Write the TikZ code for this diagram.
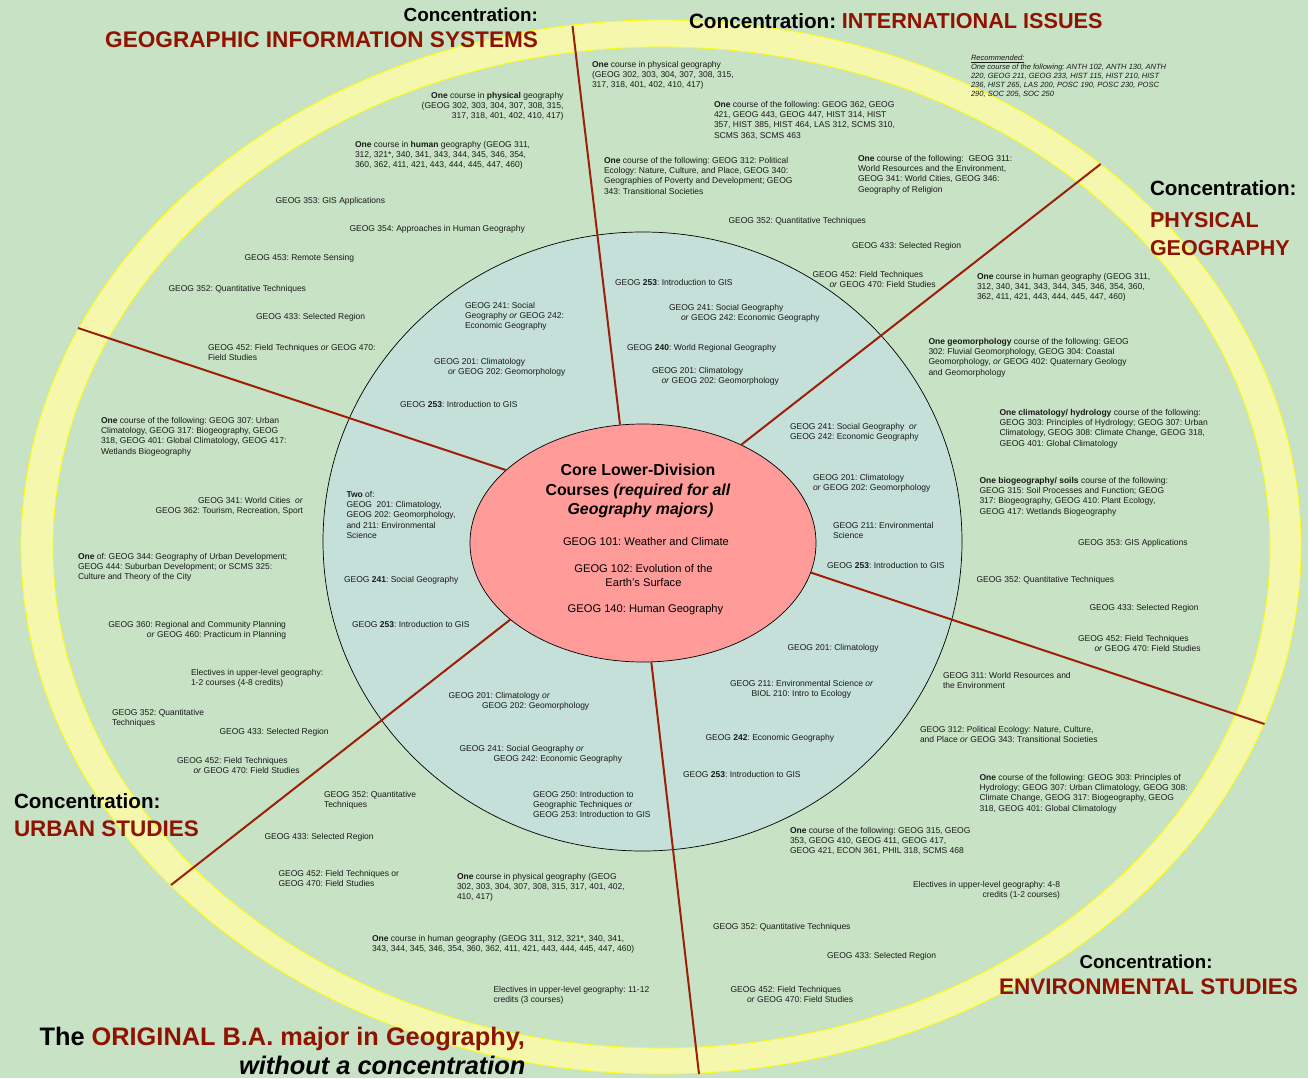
\documentclass[tikz,border=0pt]{standalone}
\usepackage{fontspec}
\setmainfont{Liberation Sans}
\usetikzlibrary{shapes.geometric}
\AtBeginDocument{\frenchspacing}
\definecolor{bgc}{HTML}{C8E2C6}
\definecolor{ringc}{HTML}{F5F7AC}
\definecolor{ringe}{HTML}{FFFF00}
\definecolor{midc}{HTML}{C5E0D8}
\definecolor{corec}{HTML}{FF9C9A}
\definecolor{linec}{HTML}{9C1F08}
\definecolor{headc}{HTML}{8F1300}
\definecolor{txtc}{HTML}{1A1A1A}
\tikzset{
 lt/.style={inner sep=0pt,outer sep=0pt,anchor=north west,align=left,text=txtc,font=\fontsize{8.5}{10.3}\selectfont},
 rt/.style={inner sep=0pt,outer sep=0pt,anchor=north east,align=right,text=txtc,font=\fontsize{8.5}{10.3}\selectfont},
 rec/.style={inner sep=0pt,outer sep=0pt,anchor=north west,align=left,text=txtc,font=\fontsize{7.55}{9}\selectfont\itshape},
 coret/.style={inner sep=0pt,outer sep=0pt,anchor=center,align=center,text=black,font=\fontsize{11.15}{14}\selectfont},
 coreh/.style={inner sep=0pt,outer sep=0pt,anchor=center,align=center,text=black,font=\fontsize{15.9}{19.7}\selectfont\bfseries},
 headbl/.style={inner sep=0pt,outer sep=0pt,text=black,font=\fontsize{#1}{#1}\selectfont\bfseries},
 headre/.style={inner sep=0pt,outer sep=0pt,text=headc,font=\fontsize{#1}{#1}\selectfont\bfseries},
 divider/.style={draw=linec,line width=2pt},
}
\newcommand{\ind}[1]{\hspace*{#1pt}}
\begin{document}
\begin{tikzpicture}[x=1pt,y=-1pt]
\useasboundingbox (0,0) rectangle (1308,1078);
\fill[bgc] (0,0) rectangle (1308,1078);
\filldraw[fill=ringc,draw=ringe,line width=0.8pt] (661,547) ellipse [x radius=640,y radius=527];
\filldraw[fill=bgc,draw=ringe,line width=0.8pt] (661.5,547.5) ellipse [x radius=608.5,y radius=500.5];
\filldraw[fill=midc,draw=black,line width=0.7pt] (642.5,541.5) ellipse [x radius=319.5,y radius=309.5];
\node[ellipse,draw=black,fill=corec,line width=0.7pt,minimum width=346pt,minimum height=238pt,inner sep=0pt] (core) at (643,543) {};
\coordinate (e1) at (572.5,26);
\coordinate (e2) at (1100.7,164);
\coordinate (e3) at (1264.5,724);
\coordinate (e4) at (699,1074);
\coordinate (e5) at (171,885);
\coordinate (e6) at (78,328);
\draw[divider] (core.101) -- (e1);
\draw[divider] (core.45.8) -- (e2);
\draw[divider] (core.-10.2) -- (e3);
\draw[divider] (core.-86.6) -- (e4);
\draw[divider] (core.210.8) -- (e5);
\draw[divider] (core.152.4) -- (e6);
% core text
\node[coreh] (ch) at (638,491) {Core Lower-Division\\Courses \textit{(required for all}\\\ind{5}\textit{Geography majors)}};
\node[coret] (c1) at (646,542) {GEOG 101: Weather and Climate};
\node[coret] (c2) at (643.5,576) {GEOG 102: Evolution of the\\Earth's Surface};
\node[coret] (c3) at (645.5,610) {GEOG 140: Human Geography};
% headings
\node[headbl=18.9,anchor=base east] (h1) at (538,21.5) {Concentration:};
\node[headre=22.6,anchor=base east] (h2) at (538,48) {GEOGRAPHIC INFORMATION SYSTEMS};
\node[headbl=20.7,anchor=base west] (h3) at (689,29) {Concentration: \textcolor{headc}{\fontsize{21.65}{21.65}\selectfont INTERNATIONAL ISSUES}};
\node[headbl=20.6,anchor=base west] (h4) at (1150,195) {Concentration:};
\node[headre=21.5,anchor=base west] (h5) at (1150,227) {PHYSICAL};
\node[headre=21.5,anchor=base west] (h6) at (1150,255) {GEOGRAPHY};
\node[headbl=20.6,anchor=base west] (h7) at (14,808.7) {Concentration:};
\node[headre=22.5,anchor=base west] (h8) at (14,836) {URBAN STUDIES};
\node[headbl=18.7,anchor=base] (h9) at (1146,968) {Concentration:};
\node[headre=22.55,anchor=base east] (h10) at (1298,994) {ENVIRONMENTAL STUDIES};
\node[headbl=25.35,anchor=base east] (h11) at (525,1045) {The \textcolor{headc}{ORIGINAL B.A. major in Geography,}};
\node[headbl=25.4,anchor=base east] (h12) at (525.5,1074) {\textit{without a concentration}};
% GIS
\node[rt] (a1) at (563.5,92) {\textbf{One} course in \textbf{physical} geography\\(GEOG 302, 303, 304, 307, 308, 315,\\317, 318, 401, 402, 410, 417)};
\node[lt] (a2) at (355,141) {\textbf{One} course in \textbf{human} geography (GEOG 311,\\312, 321*, 340, 341, 343, 344, 345, 346, 354,\\360, 362, 411, 421, 443, 444, 445, 447, 460)};
\node[lt] (a3) at (275.5,197) {GEOG 353: GIS Applications};
\node[lt] (a4) at (349.5,225) {GEOG 354: Approaches in Human Geography};
\node[lt] (a5) at (244.5,254) {GEOG 453: Remote Sensing};
\node[lt] (a6) at (168.5,285) {GEOG 352: Quantitative Techniques};
\node[lt] (a7) at (256,313) {GEOG 433: Selected Region};
\node[lt] (a8) at (208,344) {GEOG 452: Field Techniques \textit{or} GEOG 470:\\Field Studies};
\node[lt] (a9) at (465,302) {GEOG 241: Social\\Geography \textit{or} GEOG 242:\\Economic Geography};
\node[lt] (a10) at (434,358) {GEOG 201: Climatology\\\ind{14}\textit{or} GEOG 202: Geomorphology};
\node[lt] (a11) at (400,401) {GEOG \textbf{253}: Introduction to GIS};
% International
\node[lt] (b1) at (592,61) {\textbf{One} course in physical geography\\(GEOG 302, 303, 304, 307, 308, 315,\\317, 318, 401, 402, 410, 417)};
\node[lt] (b2) at (714,101) {\textbf{One} course of the following: GEOG 362, GEOG\\421, GEOG 443, GEOG 447, HIST 314, HIST\\357, HIST 385, HIST 464, LAS 312, SCMS 310,\\SCMS 363, SCMS 463};
\node[lt] (b3) at (604,157) {\textbf{One} course of the following: GEOG 312: Political\\Ecology: Nature, Culture, and Place, GEOG 340:\\Geographies of Poverty and Development; GEOG\\343: Transitional Societies};
\node[lt] (b4) at (858,155) {\textbf{One} course of the following:\ \ GEOG 311:\\World Resources and the Environment,\\GEOG 341: World Cities, GEOG 346:\\Geography of Religion};
\node[rec] (b5) at (971,55.5) {\underline{Recommended:}\\One course of the following: ANTH 102, ANTH 130, ANTH\\220, GEOG 211, GEOG 233, HIST 115, HIST 210, HIST\\236, HIST 265, LAS 200, POSC 190, POSC 230, POSC\\290, SOC 205, SOC 250};
\node[lt] (b6) at (728.5,217) {GEOG 352: Quantitative Techniques};
\node[lt] (b7) at (852,242) {GEOG 433: Selected Region};
\node[lt] (b8) at (812.5,271) {GEOG 452: Field Techniques\\\ind{17}\textit{or} GEOG 470: Field Studies};
\node[lt] (b9) at (615,279) {GEOG \textbf{253}: Introduction to GIS};
\node[lt] (b10) at (669,304) {GEOG 241: Social Geography\\\ind{12}\textit{or} GEOG 242: Economic Geography};
\node[lt] (b11) at (627,344) {GEOG \textbf{240}: World Regional Geography};
\node[lt] (b12) at (652,367) {GEOG 201: Climatology\\\ind{9.5}\textit{or} GEOG 202: Geomorphology};
% Physical
\node[lt] (p1) at (977,273) {\textbf{One} course in human geography (GEOG 311,\\312, 340, 341, 343, 344, 345, 346, 354, 360,\\362, 411, 421, 443, 444, 445, 447, 460)};
\node[lt] (p2) at (928.5,338) {\textbf{One geomorphology} course of the following: GEOG\\302: Fluvial Geomorphology, GEOG 304: Coastal\\Geomorphology, \textit{or} GEOG 402: Quaternary Geology\\and Geomorphology};
\node[lt] (p3) at (999.5,409) {\textbf{One climatology/ hydrology} course of the following:\\GEOG 303: Principles of Hydrology; GEOG 307: Urban\\Climatology, GEOG 308: Climate Change, GEOG 318,\\GEOG 401: Global Climatology};
\node[lt] (p4) at (979.5,477) {\textbf{One biogeography/ soils} course of the following:\\GEOG 315: Soil Processes and Function; GEOG\\317: Biogeography, GEOG 410: Plant Ecology,\\GEOG 417: Wetlands Biogeography};
\node[lt] (p5) at (1078,539) {GEOG 353: GIS Applications};
\node[lt] (p6) at (976.5,576) {GEOG 352: Quantitative Techniques};
\node[lt] (p7) at (1089.5,604) {GEOG 433: Selected Region};
\node[lt] (p8) at (1078,635) {GEOG 452: Field Techniques\\\ind{16.5}\textit{or} GEOG 470: Field Studies};
\node[lt] (p9) at (790,423) {GEOG 241: Social Geography\ \ \textit{or}\\GEOG 242: Economic Geography};
\node[lt] (p10) at (813,474) {GEOG 201: Climatology\\\textit{or} GEOG 202: Geomorphology};
\node[lt] (p11) at (833,522) {GEOG 211: Environmental\\Science};
\node[lt] (p12) at (827,562) {GEOG \textbf{253}: Introduction to GIS};
% Environmental
\node[lt] (v1) at (787.5,644) {GEOG 201: Climatology};
\node[lt] (v2) at (730,680) {GEOG 211: Environmental Science \textit{or}\\\ind{21.5}BIOL 210: Intro to Ecology};
\node[lt] (v3) at (705.5,734) {GEOG \textbf{242}: Economic Geography};
\node[lt] (v4) at (683,771) {GEOG \textbf{253}: Introduction to GIS};
\node[lt] (v5) at (943,672) {GEOG 311: World Resources and\\the Environment};
\node[lt] (v6) at (920,726) {GEOG 312: Political Ecology: Nature, Culture,\\and Place \textit{or} GEOG 343: Transitional Societies};
\node[lt] (v7) at (979.5,774) {\textbf{One} course of the following: GEOG 303: Principles of\\Hydrology; GEOG 307: Urban Climatology, GEOG 308:\\Climate Change, GEOG 317: Biogeography, GEOG\\318, GEOG 401: Global Climatology};
\node[lt] (v8) at (790,827) {\textbf{One} course of the following: GEOG 315, GEOG\\353, GEOG 410, GEOG 411, GEOG 417,\\GEOG 421, ECON 361, PHIL 318, SCMS 468};
\node[rt] (v9) at (1060,881) {Electives in upper-level geography: 4-8\\credits (1-2 courses)};
\node[lt] (v10) at (713,923) {GEOG 352: Quantitative Techniques};
\node[lt] (v11) at (827,952) {GEOG 433: Selected Region};
\node[lt] (v12) at (730.5,986) {GEOG 452: Field Techniques\\\ind{16.5}\textit{or} GEOG 470: Field Studies};
% Urban
\node[lt] (u1) at (101,417) {\textbf{One} course of the following: GEOG 307: Urban\\Climatology, GEOG 317: Biogeography, GEOG\\318, GEOG 401: Global Climatology, GEOG 417:\\Wetlands Biogeography};
\node[rt] (u2) at (303,497) {GEOG 341: World Cities\ \ \textit{or}\\GEOG 362: Tourism, Recreation, Sport};
\node[lt] (u3) at (78,553) {\textbf{One} of: GEOG 344: Geography of Urban Development;\\GEOG 444: Suburban Development; or SCMS 325:\\Culture and Theory of the City};
\node[rt] (u4) at (286,621) {GEOG 360: Regional and Community Planning\\\textit{or} GEOG 460: Practicum in Planning};
\node[lt] (u5) at (191,669) {Electives in upper-level geography:\\1-2 courses (4-8 credits)};
\node[lt] (u6) at (112,709) {GEOG 352: Quantitative\\Techniques};
\node[lt] (u7) at (219.5,728) {GEOG 433: Selected Region};
\node[lt] (u8) at (177,757) {GEOG 452: Field Techniques\\\ind{16.5}\textit{or} GEOG 470: Field Studies};
\node[lt] (u9) at (346.5,491) {\textbf{Two} of:\\GEOG\ \ 201: Climatology,\\GEOG 202: Geomorphology,\\and 211: Environmental\\Science};
\node[lt] (u10) at (344,576) {GEOG \textbf{241}: Social Geography};
\node[lt] (u11) at (352,621) {GEOG \textbf{253}: Introduction to GIS};
% Original
\node[lt] (o1) at (448.5,692) {GEOG 201: Climatology \textit{or}\\\ind{33.5}GEOG 202: Geomorphology};
\node[lt] (o2) at (459.5,745) {GEOG 241: Social Geography \textit{or}\\\ind{34}GEOG 242: Economic Geography};
\node[lt] (o3) at (533,791) {GEOG 250: Introduction to\\Geographic Techniques \textit{or}\\GEOG 253: Introduction to GIS};
\node[lt] (o4) at (324,791) {GEOG 352: Quantitative\\Techniques};
\node[lt] (o5) at (264.5,833) {GEOG 433: Selected Region};
\node[lt] (o6) at (278.5,870) {GEOG 452: Field Techniques or\\GEOG 470: Field Studies};
\node[lt] (o7) at (457,873) {\textbf{One} course in physical geography (GEOG\\302, 303, 304, 307, 308, 315, 317, 401, 402,\\410, 417)};
\node[lt] (o8) at (372,935) {\textbf{One} course in human geography (GEOG 311, 312, 321*, 340, 341,\\343, 344, 345, 346, 354, 360, 362, 411, 421, 443, 444, 445, 447, 460)};
\node[lt] (o9) at (493.5,986) {Electives in upper-level geography: 11-12\\credits (3 courses)};
\end{tikzpicture}
\end{document}
